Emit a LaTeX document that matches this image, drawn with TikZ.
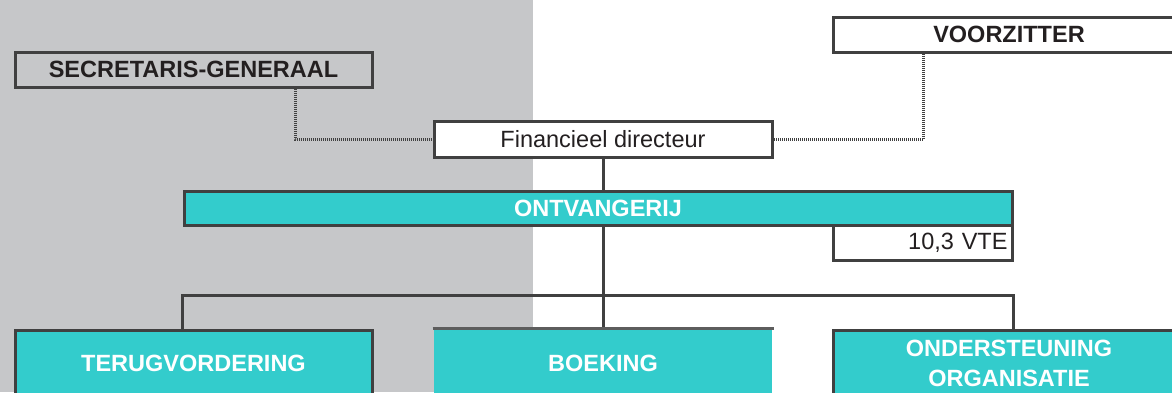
\documentclass[tikz,border=0pt]{standalone}
\usepackage{fontspec}
\setmainfont{Liberation Sans}
\definecolor{bggrey}{HTML}{C6C7C9}
\definecolor{teal1}{HTML}{33CCCC}
\definecolor{edge}{HTML}{404040}
\definecolor{ink}{HTML}{231F20}
\begin{document}
\begin{tikzpicture}[x=1pt,y=-1pt,
  box/.style={draw=edge,line width=3pt,rectangle,inner sep=0pt,align=center,
    font=\fontsize{23.5}{30}\selectfont,text=ink},
  headbox/.style={box,font=\fontsize{23.5}{30}\selectfont\bfseries},
  unitbox/.style={box,fill=teal1,text=white,font=\fontsize{23.5}{30}\selectfont\bfseries},
  conn/.style={draw=edge,line width=3pt},
  dotline/.style={draw=edge,line width=3pt,dash pattern=on 1pt off 1pt}]
\useasboundingbox (0,0) rectangle (1172,392);
\clip (0,0) rectangle (1172,392);
\fill[bggrey] (0,0) rectangle (533,392);
% top nodes
\node[headbox,fill=bggrey,minimum width=357pt,minimum height=35pt] (sg) at (193.5,69.5) {SECRETARIS-GENERAAL};
\node[headbox,fill=white,minimum width=352pt,minimum height=35pt] (vz) at (1009,34.5) {VOORZITTER};
\node[box,fill=white,minimum width=338pt,minimum height=36pt] (fd) at (603,139) {Financieel directeur};
\node[unitbox,minimum width=828pt,minimum height=34pt] (ont) at (598,208) {ONTVANGERIJ};
\node[box,fill=white,minimum width=179pt,minimum height=35pt,text width=170pt,align=right] (vte) at (922.5,242.5) {10,3 VTE};
% bottom nodes
\node[unitbox,minimum width=357pt,minimum height=66pt] (ter) at (193.5,363) {TERUGVORDERING};
\node[unitbox,draw=none,minimum width=338pt,minimum height=66pt] (boek) at (603,363) {BOEKING};
\node[unitbox,minimum width=352pt,minimum height=66pt] (ond) at (1009,363) {ONDERSTEUNING\\ORGANISATIE};
% connectors
\draw[dotline] ([xshift=101.5pt]sg.south) |- (fd.west);
\draw[dotline] ([xshift=-86pt]vz.south) |- (fd.east);
\draw[conn] (fd.south) -- (fd.south |- ont.north);
\draw[conn] (boek.north) -- (boek.north |- ont.south);
\coordinate (bar) at (0,295);
\draw[conn] (ter.north -| ont.west) -- (ont.west |- bar) -- (ont.east |- bar) -- (ond.north -| ont.east);
\draw[draw=edge!85,line width=2.5pt] (boek.north west) -- (boek.north east);
\end{tikzpicture}
\end{document}
